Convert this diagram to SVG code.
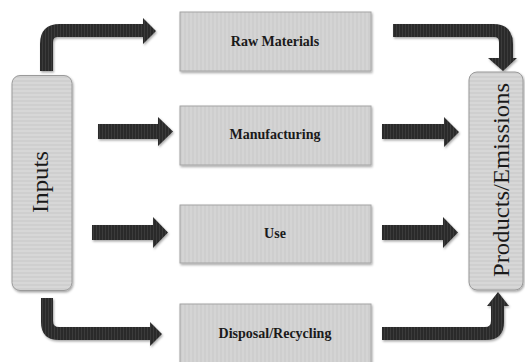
<svg xmlns="http://www.w3.org/2000/svg" width="525" height="362" viewBox="0 0 525 362">
<defs>
<pattern id="vstripe" patternUnits="userSpaceOnUse" width="4" height="4">
<rect width="4" height="4" fill="#d4d4d4"/>
<rect width="2" height="4" fill="#cecece"/>
</pattern>
<pattern id="hstripe" patternUnits="userSpaceOnUse" width="4" height="4">
<rect width="4" height="4" fill="#d7d7d7"/>
<rect width="4" height="2" fill="#cfcfcf"/>
</pattern>
<pattern id="dark" patternUnits="userSpaceOnUse" width="3" height="3">
<rect width="3" height="3" fill="#2a2a2a"/>
<rect width="1" height="3" fill="#3a3a3a"/>
</pattern>
<filter id="sh" x="-10%" y="-10%" width="130%" height="130%">
<feDropShadow dx="1" dy="1.5" stdDeviation="1" flood-color="#000" flood-opacity="0.35"/>
</filter>
</defs>
<style>
.box{fill:url(#vstripe);stroke:#a4a4a4;stroke-width:1;filter:url(#sh)}
.side{fill:url(#hstripe);stroke:#9a9a9a;stroke-width:1;filter:url(#sh)}
.lbl{font-family:"Liberation Serif",serif;font-weight:bold;font-size:14px;fill:#1a1a1a;text-anchor:middle}
.big{font-family:"Liberation Serif",serif;font-size:23px;fill:#1a1a1a;text-anchor:middle}
.arr{fill:url(#dark);filter:url(#sh)}
</style>
<rect width="525" height="362" fill="#ffffff"/>
<g id="connectors">
<path class="arr" d="M40,71 L40,44 Q40,24 60,24 L143,24 L143,18 L156,31 L143,44 L143,37 L58,37 Q53,37 53,42 L53,71 Z"/>
<path class="arr" d="M98,124 L158,124 L158,117 L173,131.5 L158,146 L158,139 L98,139 Z"/>
<path class="arr" d="M92,225 L153,225 L153,217 L168,232.5 L153,248 L153,240 L92,240 Z"/>
<path class="arr" d="M41,298 L53,298 L53,321 Q53,327 59,327 L150,327 L150,322 L162,334 L150,346 L150,340 L59,340 Q41,340 41,322 Z"/>
<path class="arr" d="M393,24 L493,24 Q513,24 513,44 L513,58 L517,58 L503,71 L488,58 L499,58 L499,42 Q499,37 494,37 L393,37 Z"/>
<path class="arr" d="M382,124 L444,124 L444,117 L459,132 L444,147 L444,139 L382,139 Z"/>
<path class="arr" d="M382,225 L443,225 L443,217 L458,232.5 L443,248 L443,240 L382,240 Z"/>
<path class="arr" d="M382,327 L485,327 Q491,327 491,321 L491,306 L487,306 L498,292 L509,306 L504,306 L504,322 Q504,340 486,340 L382,340 Z"/>
</g>
<g id="inputs">
<rect class="side" x="12" y="75.5" width="60" height="215" rx="8"/>
<text class="big" transform="translate(48,182) rotate(-90)" textLength="62" lengthAdjust="spacingAndGlyphs">Inputs</text>
</g>
<g id="raw-materials">
<rect class="box" x="180" y="12" width="191" height="59"/>
<text class="lbl" x="275" y="46">Raw Materials</text>
</g>
<g id="manufacturing">
<rect class="box" x="180" y="106" width="191" height="59"/>
<text class="lbl" x="275" y="139">Manufacturing</text>
</g>
<g id="use">
<rect class="box" x="180" y="205" width="191" height="58"/>
<text class="lbl" x="275" y="238">Use</text>
</g>
<g id="disposal-recycling">
<rect class="box" x="180" y="304" width="191" height="62"/>
<text class="lbl" x="275" y="338">Disposal/Recycling</text>
</g>
<g id="products-emissions">
<rect class="side" x="469" y="72" width="54" height="218" rx="8"/>
<text class="big" transform="translate(509,180) rotate(-90)" textLength="194" lengthAdjust="spacingAndGlyphs">Products/Emissions</text>
</g>
</svg>
